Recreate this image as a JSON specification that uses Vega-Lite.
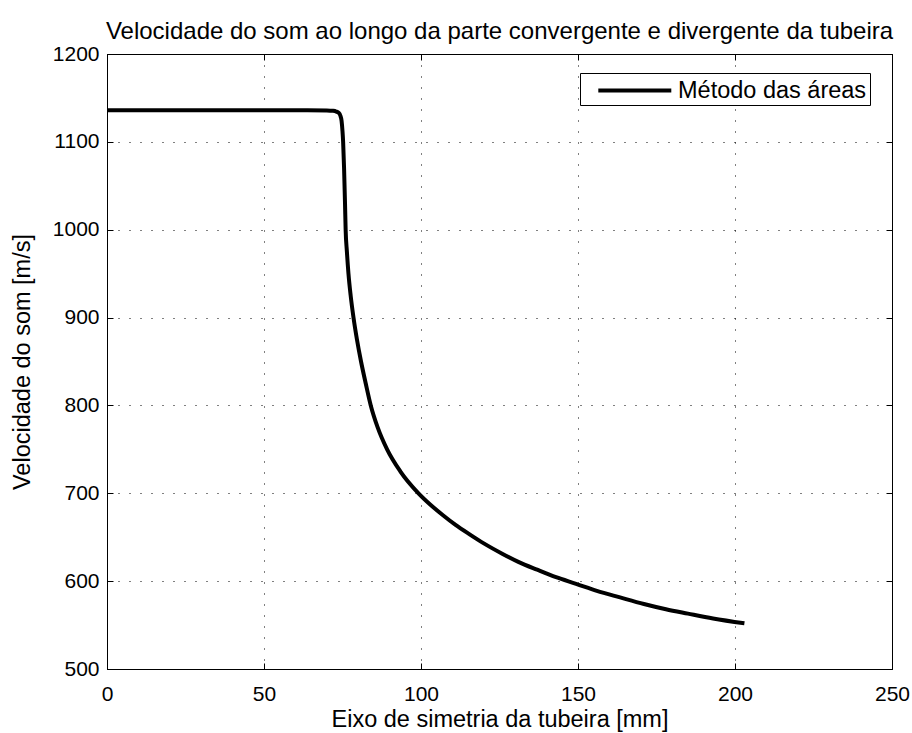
{
  "$schema": "https://vega.github.io/schema/vega-lite/v6.json",
  "width": 785,
  "height": 615,
  "autosize": {"type": "none"},
  "padding": {"left": 107, "top": 54, "right": 20, "bottom": 64},
  "background": "white",
  "config": {
    "font": "Liberation Sans",
    "view": {"stroke": "black", "strokeWidth": 1},
    "axis": {"labelFont": "Liberation Sans", "titleFont": "Liberation Sans", "labelColor": "black", "titleColor": "black", "titleFontWeight": "normal"}
  },
  "title": {"text": "Velocidade do som ao longo da parte convergente e divergente da tubeira", "fontSize": 24, "fontWeight": "normal", "font": "Liberation Sans", "color": "black", "offset": -1, "anchor": "middle"},
  "data": {"values": [
    {"x": 0, "v": 1136}, {"x": 20, "v": 1136}, {"x": 40, "v": 1136}, {"x": 60, "v": 1136},
    {"x": 70, "v": 1135.8}, {"x": 72, "v": 1135.3}, {"x": 73, "v": 1134.5}, {"x": 73.8, "v": 1133},
    {"x": 74.3, "v": 1130}, {"x": 74.7, "v": 1124}, {"x": 75, "v": 1112}, {"x": 75.2, "v": 1100},
    {"x": 75.5, "v": 1070}, {"x": 75.8, "v": 1030}, {"x": 76, "v": 1000}, {"x": 76.4, "v": 975},
    {"x": 76.9, "v": 950}, {"x": 77.6, "v": 925}, {"x": 78.5, "v": 900}, {"x": 79.6, "v": 875},
    {"x": 80.9, "v": 850}, {"x": 82.4, "v": 825}, {"x": 84.0, "v": 800}, {"x": 86.2, "v": 775},
    {"x": 89.2, "v": 750}, {"x": 93.4, "v": 725}, {"x": 99.2, "v": 700}, {"x": 103, "v": 687},
    {"x": 107, "v": 675}, {"x": 111, "v": 664},
    {"x": 115.6, "v": 653}, {"x": 120, "v": 643}, {"x": 126, "v": 631}, {"x": 131, "v": 622},
    {"x": 137, "v": 613}, {"x": 143, "v": 604.5}, {"x": 149.4, "v": 597}, {"x": 156, "v": 589},
    {"x": 163.4, "v": 581.5}, {"x": 171, "v": 574}, {"x": 178, "v": 568}, {"x": 185, "v": 563},
    {"x": 193, "v": 557.5}, {"x": 203, "v": 552}
  ]},
  "transform": [{"calculate": "'Método das áreas'", "as": "serie"}],
  "layer": [
    {
      "mark": {"type": "line", "strokeWidth": 4, "strokeCap": "butt", "strokeJoin": "round", "interpolate": "monotone"},
      "encoding": {
        "x": {"field": "x", "type": "quantitative", "scale": {"domain": [0, 250], "nice": false},
          "axis": {"orient": "bottom", "values": [0, 50, 100, 150, 200, 250], "format": "d", "title": "Eixo de simetria da tubeira [mm]", "titleFontSize": 23.5, "labelFontSize": 21, "labelPadding": 20, "titlePadding": 3, "tickSize": -6, "tickColor": "black", "domainColor": "black", "grid": true, "gridColor": "black", "gridDash": [1, 10], "gridWidth": 1, "labelFlush": false}},
        "y": {"field": "v", "type": "quantitative", "scale": {"domain": [500, 1200], "nice": false, "zero": false},
          "axis": {"orient": "left", "values": [500, 600, 700, 800, 900, 1000, 1100, 1200], "format": "d", "title": "Velocidade do som [m/s]", "titleFontSize": 23.5, "labelFontSize": 21, "labelPadding": 14, "titlePadding": 18, "tickSize": -6, "tickColor": "black", "domainColor": "black", "grid": true, "gridColor": "black", "gridDash": [1, 10], "gridWidth": 1, "labelFlush": false}},
        "color": {"field": "serie", "type": "nominal", "scale": {"range": ["black"]},
          "legend": {"title": null, "orient": "none", "legendX": 473, "legendY": 19, "padding": 3, "strokeColor": "black", "fillColor": "white", "labelFontSize": 23.5, "labelFont": "Liberation Sans", "labelColor": "black", "labelLimit": 400, "symbolType": "M-3,0H3", "symbolSize": 592, "symbolStrokeWidth": 4, "symbolStrokeColor": "black", "symbolFillColor": "transparent", "symbolOffset": 37.3, "labelOffset": 28.7, "cornerRadius": 0}}
      }
    },
    {
      "mark": {"type": "line", "strokeOpacity": 0},
      "encoding": {
        "x": {"field": "x", "type": "quantitative", "scale": {"domain": [0, 250], "nice": false},
          "axis": {"orient": "top", "values": [0, 50, 100, 150, 200, 250], "labels": false, "title": null, "tickSize": -6, "tickColor": "black", "domainColor": "black", "grid": false}},
        "y": {"field": "v", "type": "quantitative", "scale": {"domain": [500, 1200], "nice": false, "zero": false},
          "axis": {"orient": "right", "values": [500, 600, 700, 800, 900, 1000, 1100, 1200], "labels": false, "title": null, "tickSize": -6, "tickColor": "black", "domainColor": "black", "grid": false}}
      }
    }
  ],
  "resolve": {"axis": {"x": "independent", "y": "independent"}}
}
